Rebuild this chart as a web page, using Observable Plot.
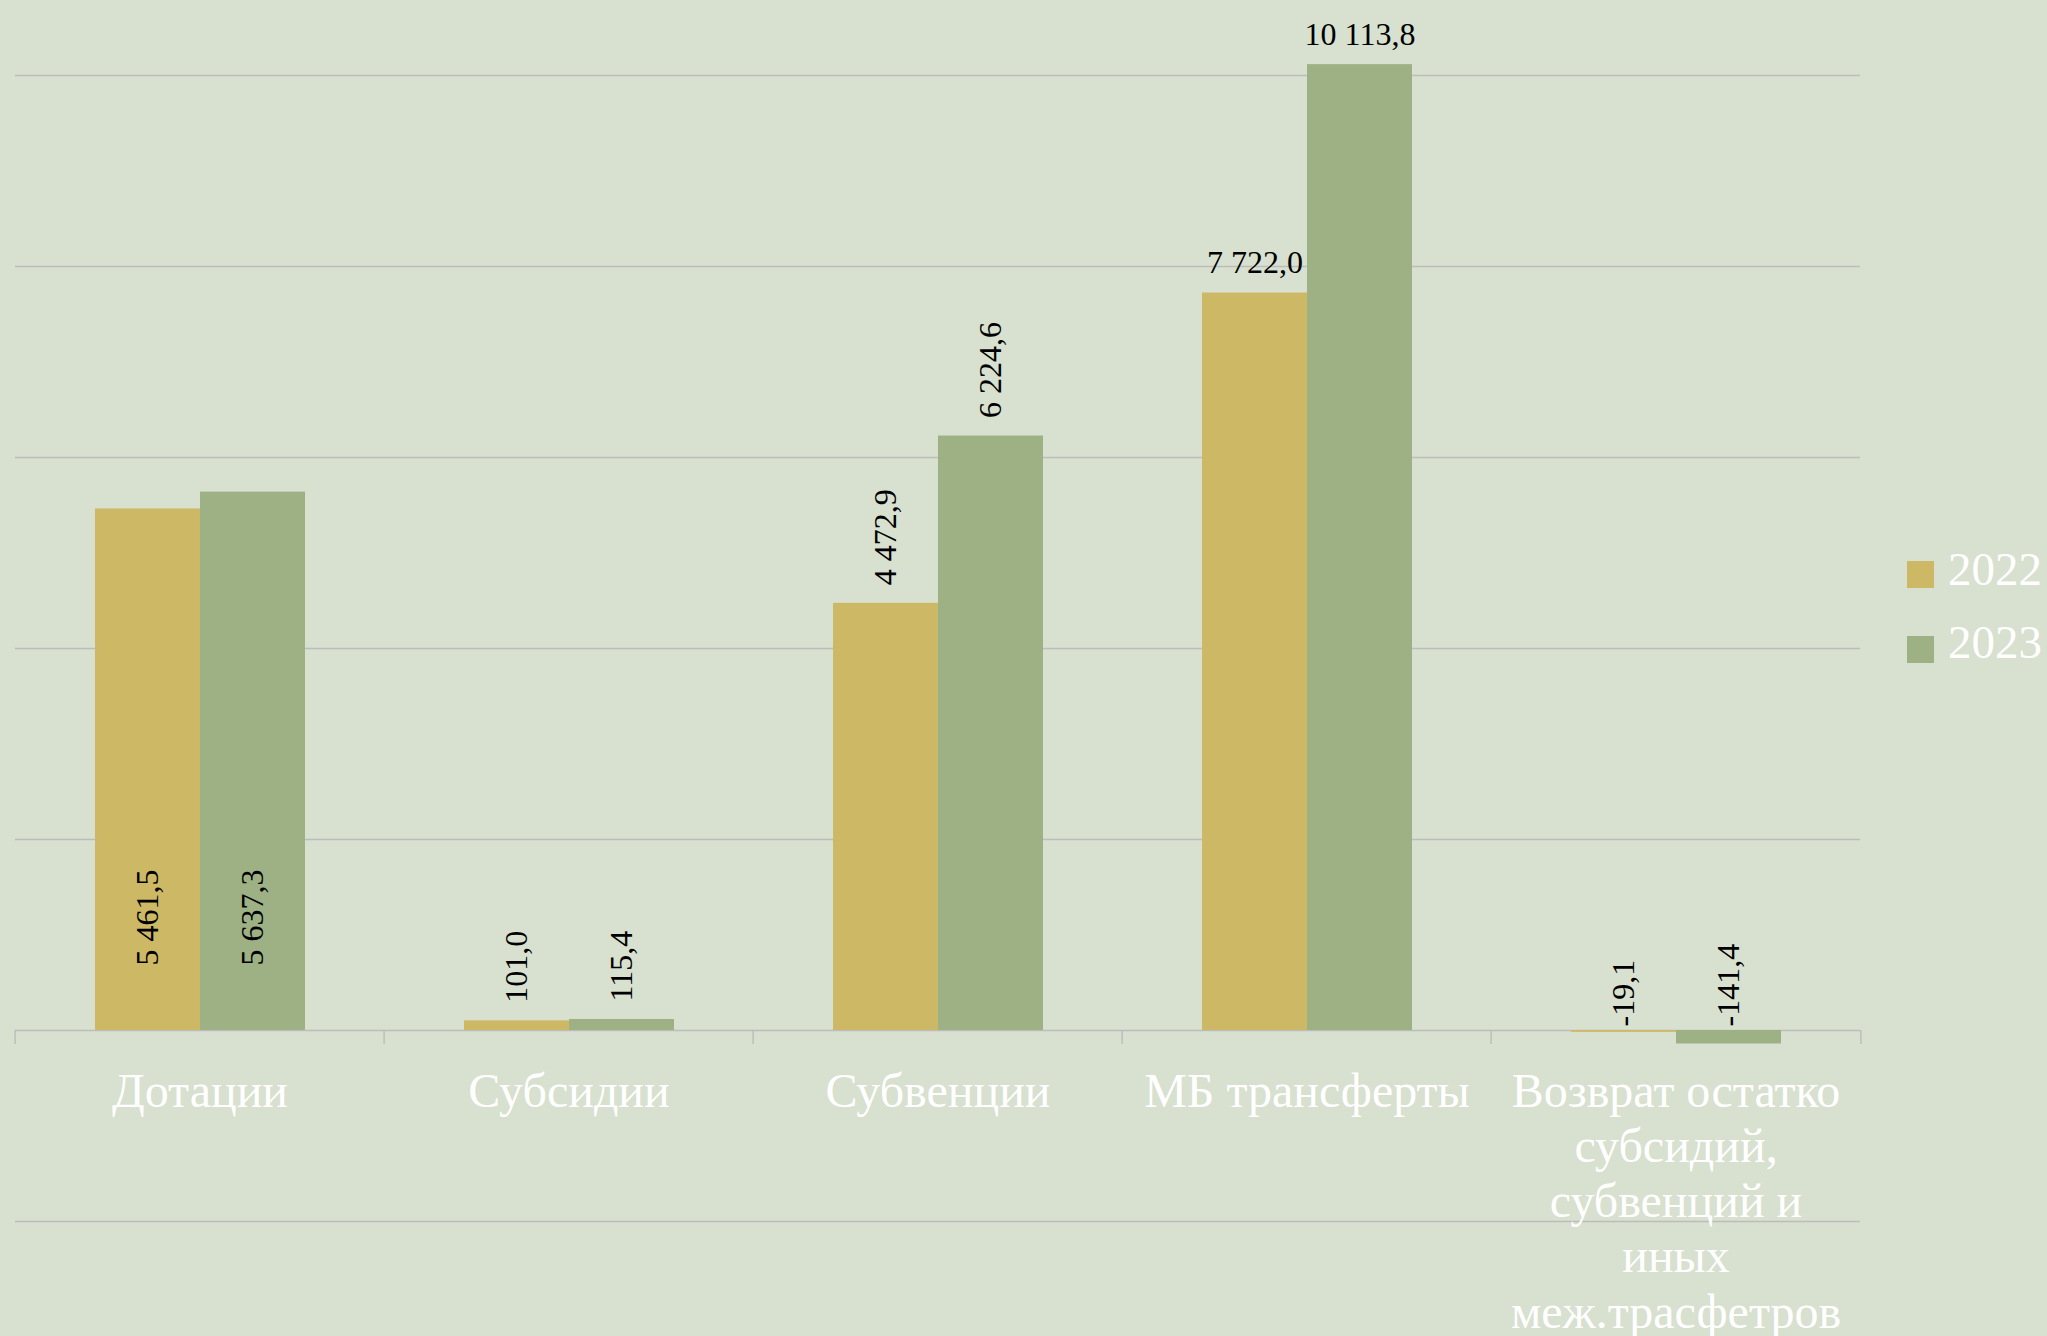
<!DOCTYPE html>
<html>
<head>
<meta charset="utf-8">
<script src="https://cdn.jsdelivr.net/npm/d3@7"></script>
<script src="https://cdn.jsdelivr.net/npm/@observablehq/plot@0.6"></script>
<style>
  html, body { margin: 0; padding: 0; background: #d8e0cf; }
  #wrap { position: relative; width: 2047px; height: 1336px; overflow: hidden; background: #d8e0cf; }
  #wrap svg { position: absolute; left: 0; top: 0; }
  .sw { position: absolute; width: 27px; height: 27px; }
  .lt { position: absolute; font-family: "Liberation Serif", serif; font-size: 47px; line-height: 46px; color: #ffffff; white-space: nowrap; }
</style>
</head>
<body>
<div id="wrap"></div>
<script>
// ---- data ----
const categories = ["Дотации", "Субсидии", "Субвенции", "МБ трансферты", "Возврат остатко субсидий, субвенций и иных меж.трасфетров"];
const categoryLabels = ["Дотации", "Субсидии", "Субвенции", "МБ трансферты", "Возврат остатко\nсубсидий,\nсубвенций и\nиных\nмеж.трасфетров"];
const years = ["2022", "2023"];
const values2022 = [5461.5, 101.0, 4472.9, 7722.0, -19.1];
const values2023 = [5637.3, 115.4, 6224.6, 10113.8, -141.4];
const gridValues = [-2000, 0, 2000, 4000, 6000, 8000, 10000];
const seriesColors = ["#cdb965", "#9db184"];

// ---- build table ----
const rows = categories.flatMap((c, i) => [
  {category: c, year: years[0], value: values2022[i], idx: i},
  {category: c, year: years[1], value: values2023[i], idx: i}
]);

const fmt = d3.formatLocale({decimal: ",", thousands: " ", grouping: [3], currency: ["", ""], minus: "-"}).format(",.1f");

const W = 2047, H = 1336, mL = 13, mR = 185, mT = 75, mB = 115;
const facetW = (W - mL - mR) / categories.length;
const gridColor = "#bcbcbc";
const labelFont = {fontFamily: "Liberation Serif", fontSize: 32, fill: "#000000"};

const chart = Plot.plot({
  width: W,
  height: H,
  marginLeft: mL,
  marginRight: mR,
  marginTop: mT,
  marginBottom: mB,
  style: {background: "transparent", overflow: "visible"},
  fx: {axis: null, domain: categories, padding: 0},
  x: {axis: null, domain: years, paddingInner: 0, paddingOuter: 0.75},
  y: {axis: null, domain: [-2000, 10000]},
  color: {domain: years, range: seriesColors},
  marks: [
    Plot.ruleY(gridValues, {stroke: gridColor, strokeWidth: 1.4}),
    // category boundary ticks below the baseline
    Plot.ruleX([0], {x: null, y1: () => 0, y2: () => 0, insetBottom: -14, dx: -facetW / 2, stroke: gridColor, strokeWidth: 1.4}),
    Plot.ruleX([categories[categories.length - 1]], {fx: d => d, x: null, y1: () => 0, y2: () => 0, insetBottom: -14, dx: facetW / 2, stroke: gridColor, strokeWidth: 1.4}),
    Plot.barY(rows, {fx: "category", x: "year", y: "value", fill: "year"}),
    // category labels
    Plot.text(categories, {fx: d => d, y: () => 0, text: (d, i) => categoryLabels[i], dy: 36.8, lineAnchor: "top", lineHeight: 1.151, fontSize: 48, fill: "#ffffff", fontFamily: "Liberation Serif"}),
    // data labels: inside base, rotated (first category)
    Plot.text(rows.filter(d => d.idx === 0), {fx: "category", x: "year", y: () => 0, text: d => fmt(d.value), rotate: -90, textAnchor: "start", dy: -65, ...labelFont}),
    // horizontal labels above bars (fourth category)
    Plot.text(rows.filter(d => d.idx === 3), {fx: "category", x: "year", y: "value", text: d => fmt(d.value), lineAnchor: "bottom", dy: -20, ...labelFont}),
    // rotated labels above positive bars
    Plot.text(rows.filter(d => d.idx !== 0 && d.idx !== 3 && d.value > 0), {fx: "category", x: "year", y: "value", text: d => fmt(d.value), rotate: -90, textAnchor: "start", dy: -18, ...labelFont}),
    // rotated labels for negative bars, above the baseline
    Plot.text(rows.filter(d => d.idx !== 0 && d.idx !== 3 && d.value <= 0), {fx: "category", x: "year", y: () => 0, text: d => fmt(d.value), rotate: -90, textAnchor: "start", dy: -4, ...labelFont})
  ]
});

const wrap = document.getElementById("wrap");
wrap.appendChild(chart);

// ---- legend (HTML, on the right) ----
years.forEach((y, i) => {
  const sw = document.createElement("div");
  sw.className = "sw";
  sw.style.left = "1907px";
  sw.style.top = (561 + i * 75) + "px";
  sw.style.background = seriesColors[i];
  wrap.appendChild(sw);
  const t = document.createElement("div");
  t.className = "lt";
  t.style.left = "1948px";
  t.style.top = (546 + i * 73) + "px";
  t.textContent = y;
  wrap.appendChild(t);
});
</script>
</body>
</html>
